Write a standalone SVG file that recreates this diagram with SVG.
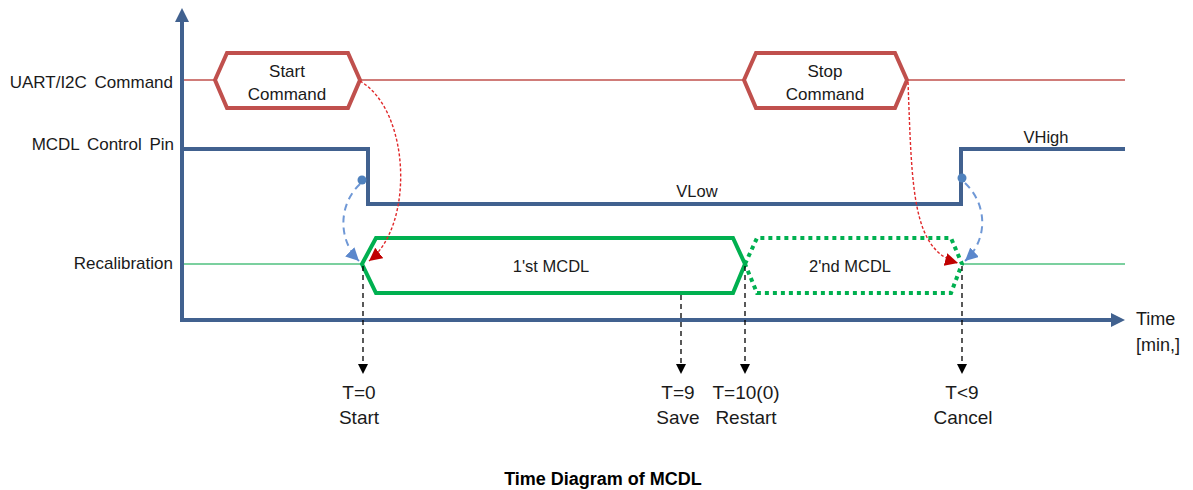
<svg xmlns="http://www.w3.org/2000/svg" width="1193" height="490" viewBox="0 0 1193 490">
<style>
text{font-family:"Liberation Sans",Arial,sans-serif;fill:#1a1a1a}
.lbl{font-size:17px;text-anchor:end;word-spacing:3px}
.c{text-anchor:middle}
.cmd{fill:#fff;stroke:#c0504d;stroke-width:4;stroke-linejoin:miter}
.axis{stroke:#41618f;stroke-width:4;fill:none}
.pin{stroke:#41618f;stroke-width:4;fill:none}
.g1{fill:none;stroke:#00b050;stroke-width:4}
.g2{fill:none;stroke:#00b050;stroke-width:4;stroke-dasharray:4 4}
.vd{stroke:#000;stroke-width:1.3;stroke-dasharray:5 4;fill:none}
.rc{stroke:#e0282a;stroke-width:1.4;stroke-dasharray:3 2;fill:none}
.bc{stroke:#6f98d6;stroke-width:2;stroke-dasharray:7 5;fill:none}
</style>
<defs>
<marker id="ab" markerUnits="userSpaceOnUse" markerWidth="10" markerHeight="12" refX="9" refY="5" orient="auto"><path d="M0,0 L10,5 L0,10 z" fill="#000"/></marker>
<marker id="ar" markerUnits="userSpaceOnUse" markerWidth="16" markerHeight="16" refX="13" refY="6.5" orient="auto"><path d="M0,0 L13,6.5 L0,13 z" fill="#c00000"/></marker>
<marker id="abl" markerUnits="userSpaceOnUse" markerWidth="16" markerHeight="16" refX="13" refY="6.5" orient="auto"><path d="M0,0 L13,6.5 L0,13 z" fill="#5b87cc"/></marker>
</defs>

<g id="axes">
<line class="axis" x1="182" y1="322" x2="182" y2="20"/>
<polygon points="182,8 175,22 189,22" fill="#41618f"/>
<line class="axis" x1="180" y1="320" x2="1112" y2="320"/>
<polygon points="1125,320 1111,313 1111,327" fill="#41618f"/>
<text x="1136" y="325" style="font-size:18px">Time</text>
<text x="1136" y="351" style="font-size:18px">[min,]</text>
</g>

<g id="labels">
<text class="lbl" x="173" y="88">UART/I2C Command</text>
<text class="lbl" x="174" y="150">MCDL Control Pin</text>
<text class="lbl" x="173" y="269">Recalibration</text>
</g>

<g id="signals">
<line x1="184" y1="80" x2="1125" y2="80" stroke="#c0504d" stroke-width="1.3"/>
<line x1="184" y1="264" x2="362" y2="264" stroke="#4fc07f" stroke-width="1.5"/>
<line x1="962" y1="264" x2="1125" y2="264" stroke="#4fc07f" stroke-width="1.5"/>
<polyline class="pin" points="184,149 368,149 368,204 961,204 961,149 1125,149"/>
<text x="697" y="197" class="c" style="font-size:16.5px">VLow</text>
<text x="1046" y="143" class="c" style="font-size:16.5px">VHigh</text>
</g>

<g id="start-command">
<polygon class="cmd" points="215,80 227,53 348,53 360,80 348,108 227,108"/>
<text x="287" y="77" class="c" style="font-size:17px">Start</text>
<text x="287" y="100" class="c" style="font-size:17px">Command</text>
</g>

<g id="stop-command">
<polygon class="cmd" points="744,80 756,53 895,53 907,80 895,108 756,108"/>
<text x="825" y="77" class="c" style="font-size:17px">Stop</text>
<text x="825" y="100" class="c" style="font-size:17px">Command</text>
</g>

<g id="mcdl1">
<polygon class="g1" points="362,264 376,238 733,238 745,264 733,293 376,293"/>
<text x="551" y="272" class="c" style="font-size:16.5px">1'st MCDL</text>
</g>

<g id="mcdl2">
<polygon class="g2" points="745,264 757,238 951,238 962,264 951,293 757,293"/>
<text x="850" y="272" class="c" style="font-size:16.5px">2'nd MCDL</text>
</g>

<g id="connectors">
<path class="rc" d="M360,81 C410,110 415,225 369,261" marker-end="url(#ar)"/>
<path class="bc" d="M360,184 C338,205 338,240 359,261" marker-end="url(#abl)"/>
<path class="rc" d="M908,82 C912,190 912,250 958,263" marker-end="url(#ar)"/>
<path class="bc" d="M965,183 C988,205 988,240 965,261" marker-end="url(#abl)"/>
<circle cx="362" cy="180" r="4.5" fill="#4f81bd"/>
<circle cx="962" cy="178" r="4.5" fill="#4f81bd"/>
<line class="vd" x1="363" y1="266" x2="363" y2="373" marker-end="url(#ab)"/>
<line class="vd" x1="681" y1="295" x2="681" y2="373" marker-end="url(#ab)"/>
<line class="vd" x1="745" y1="266" x2="745" y2="373" marker-end="url(#ab)"/>
<line class="vd" x1="962" y1="266" x2="962" y2="373" marker-end="url(#ab)"/>
</g>

<g id="times">
<text x="359" y="399" class="c" style="font-size:19px">T=0</text>
<text x="359" y="424" class="c" style="font-size:19px">Start</text>
<text x="678" y="399" class="c" style="font-size:19px">T=9</text>
<text x="678" y="424" class="c" style="font-size:19px">Save</text>
<text x="746" y="399" class="c" style="font-size:19px">T=10(0)</text>
<text x="746" y="424" class="c" style="font-size:19px">Restart</text>
<text x="962" y="399" class="c" style="font-size:19px">T&lt;9</text>
<text x="963" y="424" class="c" style="font-size:19px">Cancel</text>
</g>

<text x="603" y="485" class="c" style="font-size:18px;font-weight:bold;fill:#000">Time Diagram of MCDL</text>
</svg>
